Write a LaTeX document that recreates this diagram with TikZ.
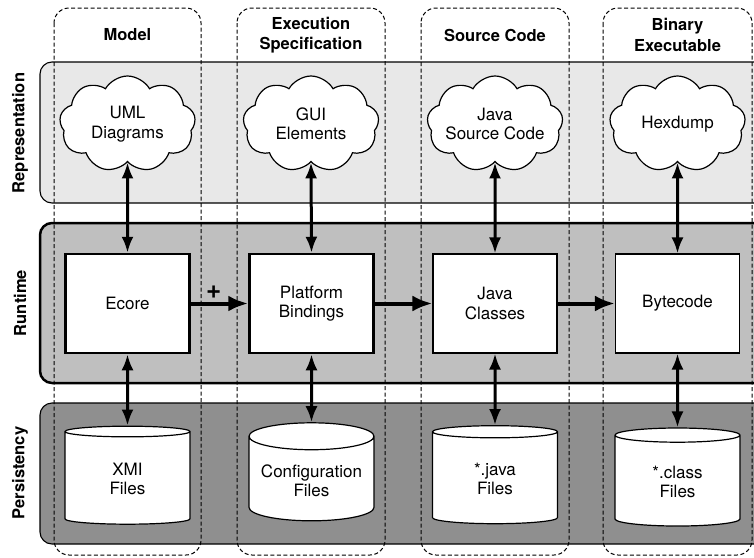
\documentclass[tikz,border=0pt]{standalone}
\usepackage{fontspec}
\setmainfont{TeX Gyre Heros}
\usetikzlibrary{arrows.meta,shapes.geometric,shapes.symbols}
\definecolor{reprgray}{gray}{0.91}
\definecolor{rungray}{gray}{0.75}
\definecolor{persgray}{gray}{0.56}

\begin{document}
\begin{tikzpicture}[x=1pt,y=-1pt,
    font=\fontsize{17}{19.5}\selectfont,
    layer/.style={draw,rounded corners=12pt,line width=1.1pt},
    column/.style={draw,rounded corners=15pt,line width=1pt,dash pattern=on 4pt off 2.5pt},
    head/.style={font=\fontsize{16.5}{20.5}\selectfont\bfseries,align=center},
    side/.style={font=\fontsize{16.5}{20}\selectfont\bfseries,rotate=90},
    idea/.style={cloud,draw,fill=white,line width=1.2pt,cloud puffs=9,cloud puff arc=120,aspect=1.4,minimum width=136pt,minimum height=96pt,align=center,inner xsep=-14pt,inner ysep=0pt},
    unit/.style={draw,fill=white,line width=1.1pt,minimum width=124pt,minimum height=99pt,align=center},
    core/.style={unit,line width=2.5pt},
    store/.style={cylinder,draw,fill=white,line width=1.2pt,shape border rotate=90,aspect=0.25,minimum width=125pt,minimum height=98pt,align=center},
    link/.style={{Latex[length=16pt,width=12pt]}-{Latex[length=16pt,width=12pt]},line width=3pt},
    flow/.style={-{Latex[length=20pt,width=16pt]},line width=4pt}]
  \useasboundingbox (0,0) rectangle (754,557);
  \clip (0,0) rectangle (754,557);
  % layers
  \draw[layer,fill=reprgray] (40,62) rectangle (790,203);
  \draw[layer,fill=rungray,line width=2.5pt] (40,223) rectangle (790,383);
  \draw[layer,fill=persgray] (40,403) rectangle (790,544);
  \node[side] (reprlabel) at (20,133) {Representation};
  \node[side] (runlabel) at (20,303) {Runtime};
  \node[side] (perslabel) at (20,473) {Persistency};
  % columns
  \draw[column] (54,8) rectangle (201,555);
  \draw[column] (237,8) rectangle (385,555);
  \draw[column] (421,8) rectangle (569,555);
  \draw[column] (603,8) rectangle (752,555);
  \node[head] (modelhead) at (127.5,35) {Model};
  \node[head] (spechead) at (311,35) {Execution\\Specification};
  \node[head] (codehead) at (495,35) {Source Code};
  \node[head] (binhead) at (677.5,35) {Binary\\Executable};
  % representation
  \node[idea] (uml) at (127.5,124) {UML\\Diagrams};
  \node[idea] (gui) at (311,124) {GUI\\Elements};
  \node[idea] (javasrc) at (495,124) {Java\\Source Code};
  \node[idea] (hexdump) at (677.5,124) {Hexdump};
  % runtime
  \node[core] (ecore) at (127.5,303.5) {Ecore};
  \node[core] (bindings) at (311.5,303.5) {Platform\\Bindings};
  \node[unit] (classes) at (495,303.5) {Java\\Classes};
  \node[unit] (bytecode) at (677.5,303.5) {Bytecode};
  % persistency
  \node[store] (xmi) at (127.5,479) {XMI\\Files};
  \node[store] (config) at (311.5,481) {Configuration\\Files};
  \node[store] (javafiles) at (495,479) {*.java\\Files};
  \node[store] (classfiles) at (677.5,482) {*.class\\Files};
  % arrows
  \draw[link] (uml.south) -- (ecore.north);
  \draw[link] (gui.south) -- (bindings.north);
  \draw[link] (javasrc.south) -- (classes.north);
  \draw[link] (hexdump.south) -- (bytecode.north);
  \draw[link] (ecore.south) -- (xmi.north);
  \draw[link] (bindings.south) -- (config.north);
  \draw[link] (classes.south) -- (javafiles.north);
  \draw[link] (bytecode.south) -- (classfiles.north);
  \draw[flow] (ecore) -- node[above=0pt,pos=0.4,font=\fontsize{26}{26}\selectfont\bfseries] (plus) {+} (bindings);
  \draw[flow] (bindings) -- (classes);
  \draw[flow] (classes) -- (bytecode);
\end{tikzpicture}
\end{document}
